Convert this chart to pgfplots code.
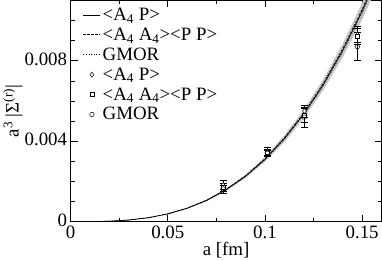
\documentclass[border=0pt]{standalone}
\usepackage{pgfplots}
\pgfplotsset{compat=1.18}
\usepgfplotslibrary{fillbetween}
\usepackage{fontspec}
\setmainfont{Liberation Serif}
\begin{document}
\begin{tikzpicture}
\begin{axis}[
  scale only axis, width=312bp, height=222bp,
  xmin=0, xmax=0.16, ymin=0, ymax=0.011,
  scaled x ticks=false, scaled y ticks=false,
  xtick={0,0.05,0.1,0.15}, xticklabels={0,0.05,0.1,0.15},
  ytick={0,0.004,0.008}, yticklabels={0,0.004,0.008},
  minor xtick={0.025,0.075,0.125},
  minor ytick={0.001,0.002,0.003,0.005,0.006,0.007,0.009,0.01},
  tick align=inside, major tick length=7bp, minor tick length=4bp,
  tick style={black, line width=0.6pt},
  axis line style={line width=0.8pt},
  /pgf/number format/assume math mode=true,
  xlabel={a [fm]}, ylabel={a\textsuperscript{3} |Σ\textsuperscript{(r)}|},
  xlabel style={yshift=4bp},
  ylabel style={yshift=-5bp},
  yticklabel style={xshift=0bp, yshift=1.5bp},
  xticklabel style={yshift=-1bp},
  tick label style={font=\fontsize{19pt}{23pt}\selectfont},
  label style={font=\fontsize{19pt}{23pt}\selectfont},
  legend style={draw=none, fill=none, at={(0.03,0.985)}, anchor=north west,
    font=\fontsize{19pt}{23pt}\selectfont, row sep=2bp},
  legend cell align=left,
  every axis plot/.append style={line width=0.6pt},
]
\addplot[name path=up, draw=none, forget plot] coordinates {
 (0.05,0.000404) (0.06,0.000697) (0.07,0.0011) (0.08,0.00165) (0.09,0.00235)
 (0.10,0.00322) (0.11,0.0043) (0.12,0.00557) (0.13,0.00708) (0.14,0.00885)
 (0.15,0.01088) (0.16,0.0132)};
\addplot[name path=lo, draw=none, forget plot] coordinates {
 (0.05,0.000372) (0.06,0.000643) (0.07,0.00102) (0.08,0.00153) (0.09,0.00217)
 (0.10,0.00298) (0.11,0.00396) (0.12,0.00515) (0.13,0.00654) (0.14,0.00817)
 (0.15,0.01004) (0.16,0.0122)};
\addplot[gray!45, forget plot] fill between[of=up and lo];
\addplot[black, solid, line width=0.7pt] coordinates {
 (0,0) (0.01,0.0000031) (0.02,0.0000248) (0.03,0.0000837) (0.04,0.000198)
 (0.05,0.000388) (0.06,0.00067) (0.07,0.00106) (0.08,0.00159) (0.09,0.00226)
 (0.10,0.0031) (0.11,0.00413) (0.12,0.00536) (0.13,0.00681) (0.14,0.00851)
 (0.15,0.01046) (0.16,0.0127)};
\addlegendentry{<A\textsubscript{4} P>}
\addplot[black, dashed, dash pattern=on 2.5bp off 1.5bp] coordinates {
 (0,0) (0.01,0.0000031) (0.02,0.000025) (0.03,0.0000845) (0.04,0.0002)
 (0.05,0.000392) (0.06,0.000677) (0.07,0.00107) (0.08,0.00161) (0.09,0.00228)
 (0.10,0.00313) (0.11,0.00417) (0.12,0.00541) (0.13,0.00688) (0.14,0.0086)
 (0.15,0.01056) (0.16,0.0128)};
\addlegendentry{<A\textsubscript{4} A\textsubscript{4}><P P>}
\addplot[black, dotted, line width=0.5pt] coordinates {
 (0,0) (0.01,0.000003) (0.02,0.0000245) (0.03,0.000083) (0.04,0.000196)
 (0.05,0.000384) (0.06,0.000663) (0.07,0.00105) (0.08,0.00157) (0.09,0.00224)
 (0.10,0.00307) (0.11,0.00409) (0.12,0.00531) (0.13,0.00674) (0.14,0.00842)
 (0.15,0.01036) (0.16,0.0126)};
\addlegendentry{GMOR}
\addplot[only marks, black, mark=diamond*, mark size=2.6bp, mark options={fill=white, line width=0.5pt},
  error bars/.cd, y dir=both, y explicit, error bar style={line width=0.6pt}, error mark options={rotate=90, mark size=3.5bp, line width=0.6pt}]
  table[x=a, y=v, y error=e] {
a v e
0.0785 0.00182 0.00022
0.1012 0.0035 0.0002
0.1203 0.0055 0.0003
0.1475 0.0093 0.0004
};
\addlegendentry{<A\textsubscript{4} P>}
\addplot[only marks, black, mark=square*, mark size=2bp, mark options={fill=white, line width=0.5pt},
  error bars/.cd, y dir=both, y explicit, error bar style={line width=0.6pt}, error mark options={rotate=90, mark size=3.5bp, line width=0.6pt}]
  table[x=a, y=v, y error=e] {
a v e
0.0785 0.00172 0.0002
0.1012 0.00345 0.00015
0.1203 0.0053 0.00035
0.1475 0.0092 0.0004
};
\addlegendentry{<A\textsubscript{4} A\textsubscript{4}><P P>}
\addplot[only marks, black, mark=o, mark size=2.3bp, mark options={fill=white, line width=0.5pt},
  error bars/.cd, y dir=both, y explicit, error bar style={line width=0.6pt}, error mark options={rotate=90, mark size=3.5bp, line width=0.6pt}]
  table[x=a, y=v, y error=e] {
a v e
0.0785 0.00163 0.0002
0.1012 0.0034 0.00015
0.1203 0.0052 0.0005
0.1475 0.0087 0.0007
};
\addlegendentry{GMOR}
\end{axis}
\end{tikzpicture}
\end{document}
